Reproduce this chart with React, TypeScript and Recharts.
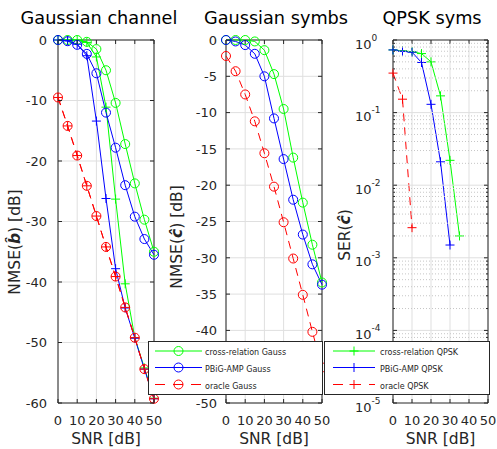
import React from 'react'
import { LineChart, Line, XAxis, YAxis, CartesianGrid, ReferenceArea } from 'recharts'

// SNR grid shared by the three panels [dB]
const snr = [0, 5, 10, 15, 20, 25, 30, 35, 40, 45, 50]

// Gaussian channel: NMSE(b) [dB]
const crossGaussB = [0, 0, 0, -0.3, -1.5, -5, -10.4, -17.2, -23.7, -29.7, -35]
const crossQpskB = [0, 0, 0, -0.4, -2.8, -11.1, -26.3, -40.3, -49.2, -54.2, -59.2]
const pbigGaussB = [0, -0.2, -0.8, -2.3, -5.5, -12, -17.8, -24, -29.2, -32.9, -35.5]
const pbigQpskB = [0, -0.1, -0.7, -2.6, -13.4, -26.2, -37.8, -44.3, -49.3, -54.4, -59.3]
const oracleGaussB = [-9.5, -14.2, -19.1, -24.1, -29.1, -34.2, -39.1, -44.2, -49.2, -54.4, -59.3]
const oracleQpskB = [-9.5, -14.2, -19.1, -24.1, -29.1, -34.2, -39.1, -44.2, -49.2, -54.4, -59.3]

// Gaussian symbols: NMSE(c) [dB]
const crossGaussC = [0, 0, 0, -0.2, -1.4, -4.7, -9.5, -16.2, -22.4, -28.2, -33.4]
const pbigGaussC = [0, -0.2, -0.7, -1.9, -5, -10.8, -16.4, -22, -26.8, -30.9, -33.7]
const oracleGaussC = [-2.2, -4.3, -7.5, -11.2, -15.6, -20.2, -25.1, -30.1, -35.1, -40.2, -45.1]

// QPSK symbols: SER(c), curves end where no errors are left
const crossQpskSer = [0.73, 0.71, 0.69, 0.65, 0.5, 0.17, 0.022, 0.002]
const pbigQpskSer = [0.73, 0.7, 0.68, 0.49, 0.13, 0.021, 0.0015]
const oracleQpskSer = [0.35, 0.153, 0.0026]

const snrTicks = [0, 10, 20, 30, 40, 50]
const nmseBTicks = [-60, -50, -40, -30, -20, -10, 0]
const nmseCTicks = [-50, -45, -40, -35, -30, -25, -20, -15, -10, -5, 0]
// the -45 label sits under the legend box in the original
const hiddenCTicks = [-45]
const serDecades = [1e-5, 1e-4, 1e-3, 1e-2, 1e-1, 1]
const serExponents = ['-5', '-4', '-3', '-2', '-1', '0']
const minorSteps = [2, 3, 4, 5, 6, 7, 8, 9]

const titles = ['Gaussian channel', 'Gaussian symbs', 'QPSK syms']
const gaussLegend = ['cross-relation Gauss', 'PBiG-AMP Gauss', 'oracle Gauss']
const qpskLegend = ['cross-relation QPSK', 'PBiG-AMP QPSK', 'oracle QPSK']

const channelRows = snr.map((s, i) => ({
  snr: s,
  crossGauss: crossGaussB[i],
  crossQpsk: crossQpskB[i],
  pbigGauss: pbigGaussB[i],
  pbigQpsk: pbigQpskB[i],
  oracleGauss: oracleGaussB[i],
  oracleQpsk: oracleQpskB[i],
}))
const symbRows = snr.map((s, i) => ({
  snr: s,
  crossGauss: crossGaussC[i],
  pbigGauss: pbigGaussC[i],
  oracleGauss: oracleGaussC[i],
}))
const qpskRows = snr.map((s, i) => ({
  snr: s,
  crossQpsk: crossQpskSer[i],
  pbigQpsk: pbigQpskSer[i],
  oracleQpsk: oracleQpskSer[i],
}))
const serTicks = [
  ...serDecades,
  ...serDecades.slice(0, -1).flatMap((d) => minorSteps.map((m) => m * d)),
].sort((a, b) => a - b)

const GREEN = '#00ff00'
const BLUE = '#0000ff'
const RED = '#ff0000'
const AX = '#262626'
const GRID = '#dfdfdf'
const FONT = '"DejaVu Sans", sans-serif'
const DASH = '8 6'
const TOP = 40
const H = 449
const XAXIS_H = 46

const tickText = { fontFamily: FONT, fontSize: 13, fill: AX }

const circleDot = (color: string) => (p: any) =>
  p.value == null || p.cy == null ? (
    <g key={`c${p.index}`} />
  ) : (
    <circle key={`c${p.index}`} cx={p.cx} cy={p.cy} r={4.5} fill='none' stroke={color} strokeWidth={1} />
  )

const plusDot = (color: string) => (p: any) =>
  p.value == null || p.cy == null ? (
    <g key={`p${p.index}`} />
  ) : (
    <path
      key={`p${p.index}`}
      d={`M${p.cx - 4.5},${p.cy}H${p.cx + 4.5}M${p.cx},${p.cy - 4.5}V${p.cy + 4.5}`}
      stroke={color}
      strokeWidth={1}
      fill='none'
    />
  )

const xTick = (p: any) => (
  <g key={`x${p.index}`}>
    <line x1={p.x} x2={p.x} y1={p.y} y2={p.y - 4} stroke={AX} />
    <line x1={p.x} x2={p.x} y1={TOP} y2={TOP + 4} stroke={AX} />
    <text x={p.x} y={p.y + 22} textAnchor='middle' {...tickText}>
      {p.payload.value}
    </text>
  </g>
)

const yTick = (right: number, gap: number, hidden: number[] = []) => (p: any) => (
  <g key={`y${p.index}`}>
    <line x1={p.x} x2={p.x + 4} y1={p.y} y2={p.y} stroke={AX} />
    <line x1={right - 4} x2={right} y1={p.y} y2={p.y} stroke={AX} />
    {!hidden.includes(p.payload.value) && (
      <text x={p.x - gap} y={p.y + 4.7} textAnchor='end' {...tickText}>
        {p.payload.value}
      </text>
    )}
  </g>
)

const logTick = (right: number, labelX: number) => (p: any) => {
  const d = serDecades.indexOf(p.payload.value)
  const major = d >= 0
  const len = major ? 4 : 2
  const edge = d === 0 || d === serDecades.length - 1
  return (
    <g key={`l${p.index}`}>
      {major && !edge && <line x1={p.x} x2={right} y1={p.y} y2={p.y} stroke={GRID} />}
      {!major && <line x1={p.x} x2={right} y1={p.y} y2={p.y} stroke='#c6c6c6' strokeDasharray='1 2' />}
      <line x1={p.x} x2={p.x + len} y1={p.y} y2={p.y} stroke={AX} />
      <line x1={right - len} x2={right} y1={p.y} y2={p.y} stroke={AX} />
      {major && (
        <text x={labelX} y={p.y + 8.5} textAnchor='start' {...tickText}>
          10
          <tspan dy={-8} fontSize={9}>
            {serExponents[d]}
          </tspan>
        </text>
      )}
    </g>
  )
}

const xLabel = (cx: number) => () => (
  <text x={cx} y={444} textAnchor='middle' fontFamily={FONT} fontSize={15.5} fill={AX}>
    SNR [dB]
  </text>
)

const yLabel = (bx: number, cy: number, name: string, sym: string, unit: string) => () => (
  <text
    x={bx}
    y={cy}
    transform={`rotate(-90 ${bx} ${cy})`}
    textAnchor='middle'
    fontFamily={FONT}
    fontSize={15.5}
    fill={AX}
  >
    {name}(
    <tspan fontWeight='bold' fontStyle='italic'>
      {sym}
    </tspan>
    ){unit}
  </text>
)

function Title({ text, cx }: { text: string; cx: number }) {
  return (
    <div
      style={{
        position: 'absolute',
        left: cx - 100,
        top: 10,
        width: 200,
        textAlign: 'center',
        fontFamily: FONT,
        fontSize: 17.7,
        lineHeight: '17.7px',
        color: '#000',
        whiteSpace: 'nowrap',
      }}
    >
      {text}
    </div>
  )
}

function SeriesLegend({
  left,
  width,
  labels,
  lineX,
  textX,
  marker,
}: {
  left: number
  width: number
  labels: string[]
  lineX: [number, number]
  textX: number
  marker: 'circle' | 'plus'
}) {
  const colors = [GREEN, BLUE, RED]
  const rows = [10, 26.5, 43.5]
  const mx = (lineX[0] + lineX[1]) / 2
  return (
    <svg style={{ position: 'absolute', left, top: 341, zIndex: 5 }} width={width} height={54}>
      <rect x={0.5} y={0.5} width={width - 1} height={53} fill='#fff' stroke={AX} />
      {labels.map((label, i) => (
        <g key={label}>
          <line
            x1={lineX[0]}
            x2={lineX[1]}
            y1={rows[i]}
            y2={rows[i]}
            stroke={colors[i]}
            strokeDasharray={i === 2 ? '10 8' : undefined}
          />
          {marker === 'circle' ? (
            <circle cx={mx} cy={rows[i]} r={4.5} fill='none' stroke={colors[i]} />
          ) : (
            <path d={`M${mx - 4.5},${rows[i]}H${mx + 4.5}M${mx},${rows[i] - 4.5}V${rows[i] + 4.5}`} stroke={colors[i]} />
          )}
          <text x={textX} y={rows[i] + 4} fontFamily={FONT} fontSize={8} fill={AX}>
            {label}
          </text>
        </g>
      ))}
    </svg>
  )
}

const series = (key: string, color: string, kind: 'circle' | 'plus', dashed = false) => (
  <Line
    key={key}
    type='linear'
    dataKey={key}
    stroke={color}
    strokeWidth={1}
    strokeDasharray={dashed ? DASH : undefined}
    dot={kind === 'circle' ? circleDot(color) : plusDot(color)}
    activeDot={false}
    isAnimationActive={false}
  />
)

export default function App() {
  return (
    <div style={{ position: 'absolute', left: 0, top: 0, width: 497, height: H, background: '#fff' }}>
      <Title text={titles[0]} cx={99} />
      <Title text={titles[1]} cx={276} />
      <Title text={titles[2]} cx={432} />

      <div style={{ position: 'absolute', left: 0, top: 0 }}>
        <LineChart width={166} height={H} data={channelRows} margin={{ top: TOP, right: 12, bottom: 0, left: 0 }}>
          <CartesianGrid stroke={GRID} />
          <XAxis
            type='number'
            dataKey='snr'
            domain={[0, 50]}
            ticks={snrTicks}
            interval={0}
            height={XAXIS_H}
            tickSize={0}
            tickMargin={0}
            tickLine={false}
            axisLine={false}
            tick={xTick}
            label={xLabel(106)}
          />
          <YAxis
            type='number'
            domain={[-60, 0]}
            ticks={nmseBTicks}
            interval={0}
            width={58}
            tickSize={0}
            tickMargin={0}
            tickLine={false}
            axisLine={false}
            tick={yTick(154, 11)}
            label={yLabel(20, 242, 'NMSE', 'b\u0302', ' [dB]')}
          />
          <ReferenceArea x1={0} x2={50} y1={-60} y2={0} fill='none' stroke={AX} strokeWidth={1} />
          {series('crossGauss', GREEN, 'circle')}
          {series('crossQpsk', GREEN, 'plus')}
          {series('pbigGauss', BLUE, 'circle')}
          {series('pbigQpsk', BLUE, 'plus')}
          {series('oracleGauss', RED, 'circle', true)}
          {series('oracleQpsk', RED, 'plus', true)}
        </LineChart>
      </div>

      <div style={{ position: 'absolute', left: 160, top: 0 }}>
        <LineChart width={170} height={H} data={symbRows} margin={{ top: TOP, right: 8, bottom: 0, left: 0 }}>
          <CartesianGrid stroke={GRID} />
          <XAxis
            type='number'
            dataKey='snr'
            domain={[0, 50]}
            ticks={snrTicks}
            interval={0}
            height={XAXIS_H}
            tickSize={0}
            tickMargin={0}
            tickLine={false}
            axisLine={false}
            tick={xTick}
            label={xLabel(114)}
          />
          <YAxis
            type='number'
            domain={[-50, 0]}
            ticks={nmseCTicks}
            interval={0}
            width={66}
            tickSize={0}
            tickMargin={0}
            tickLine={false}
            axisLine={false}
            tick={yTick(162, 9, hiddenCTicks)}
            label={yLabel(22, 237, 'NMSE', 'c\u0302', ' [dB]')}
          />
          <ReferenceArea x1={0} x2={50} y1={-50} y2={0} fill='none' stroke={AX} strokeWidth={1} />
          {series('crossGauss', GREEN, 'circle')}
          {series('pbigGauss', BLUE, 'circle')}
          {series('oracleGauss', RED, 'circle', true)}
        </LineChart>
      </div>

      <div style={{ position: 'absolute', left: 330, top: 0 }}>
        <LineChart width={167} height={H} data={qpskRows} margin={{ top: TOP, right: 9, bottom: 0, left: 0 }}>
          <CartesianGrid stroke={GRID} horizontal={false} />
          <XAxis
            type='number'
            dataKey='snr'
            domain={[0, 50]}
            ticks={snrTicks}
            interval={0}
            height={XAXIS_H}
            tickSize={0}
            tickMargin={0}
            tickLine={false}
            axisLine={false}
            tick={xTick}
            label={xLabel(110.5)}
          />
          <YAxis
            type='number'
            scale='log'
            domain={[1e-5, 1]}
            ticks={serTicks}
            interval={0}
            width={63}
            tickSize={0}
            tickMargin={0}
            tickLine={false}
            axisLine={false}
            tick={logTick(158, 25)}
            label={yLabel(20, 235, 'SER', 'c\u0302', '')}
          />
          <ReferenceArea x1={0} x2={50} y1={1e-5} y2={1} fill='none' stroke={AX} strokeWidth={1} />
          {series('crossQpsk', GREEN, 'plus')}
          {series('pbigQpsk', BLUE, 'plus')}
          {series('oracleQpsk', RED, 'plus', true)}
        </LineChart>
      </div>

      <SeriesLegend left={148} width={175} labels={gaussLegend} lineX={[7, 54]} textX={57} marker='circle' />
      <SeriesLegend left={324} width={166} labels={qpskLegend} lineX={[9, 51]} textX={56} marker='plus' />
    </div>
  )
}
